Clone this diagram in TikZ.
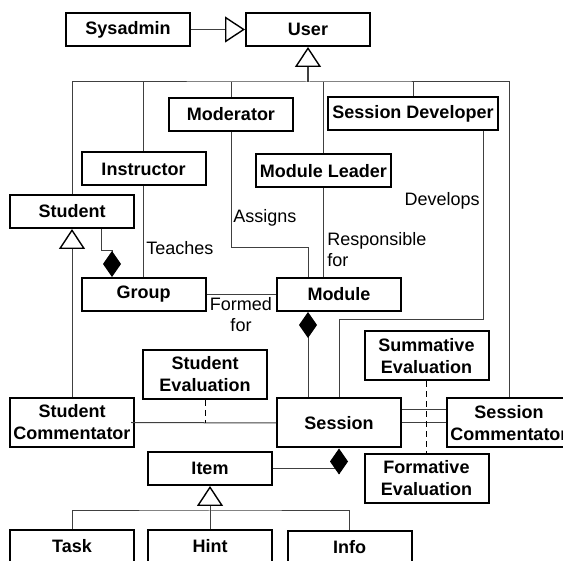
\documentclass[tikz,border=0pt]{standalone}
\usepackage{fontspec}
\setmainfont{Liberation Sans}
\usetikzlibrary{arrows.meta,calc}

\begin{document}
\begin{tikzpicture}[x=0.5pt,y=-0.5pt,
  cls/.style={draw=black, line width=1pt, minimum width=62pt, minimum height=16.5pt,
    inner sep=1pt, align=center, font=\bfseries\fontsize{9}{11}\selectfont},
  twoline/.style={cls, minimum height=24.5pt},
  lbl/.style={inner sep=0pt, align=left, font=\fontsize{9}{10.5}\selectfont},
  assoc/.style={draw=black!75, line width=0.5pt},
  assocdash/.style={assoc, draw=black, dash pattern=on 3pt off 2pt},
  gen/.style={assoc, -{Triangle[open, length=10pt, width=13pt, line width=0.7pt, fill=white, black]}},
  comp/.style={assoc, -{Diamond[length=13pt, width=9pt, black]}}]

\clip (0,0) rectangle (563,561);

\node[cls] (sys) at (128,29.5) {Sysadmin};
\node[cls] (user) at (308,29.5) {User};
\node[cls] (mod) at (231,114.5) {Moderator};
\node[cls, minimum width=85pt] (sdev) at (413,113.5) {Session Developer};
\node[cls] (inst) at (143.5,169) {Instructor};
\node[cls, minimum width=67.5pt] (lead) at (323.5,171) {Module Leader};
\node[cls] (stud) at (72,211.5) {Student};
\node[cls] (group) at (143.5,294.5) {Group};
\node[cls] (module) at (339,294.5) {Module};
\node[twoline] (seval) at (205,374.5) {Student\\Evaluation};
\node[twoline] (summ) at (426.5,356) {Summative\\Evaluation};
\node[twoline] (scom) at (72,422.5) {Student\\Commentator};
\node[twoline] (session) at (339,423) {Session};
\node[twoline] (sescom) at (509,423) {Session\\Commentator};
\node[cls] (item) at (210,468.5) {Item};
\node[twoline] (form) at (426.5,478.5) {Formative\\Evaluation};
\node[cls] (task) at (72,546.5) {Task};
\node[cls] (hint) at (210,546.5) {Hint};
\node[cls] (info) at (349.5,547.5) {Info};

\coordinate (ubar) at (308,82);
\coordinate (ibar) at (210,511);
\coordinate (asg) at (308,248);
\coordinate (dev) at (339,320);

% inheritance
\draw[gen] (sys) -- (user);
\draw[gen, line width=1pt] (ubar) -- (user);
\draw[assoc] (stud.north) |- (ubar) -| (sescom.north);
\foreach \n in {inst,mod,lead,sdev}
  \draw[assoc] (\n.north) -- (\n.north |- ubar);
\draw[gen] (scom) -- (stud);
\draw[gen] (hint) -- (item);
\draw[assoc] (task.north) |- (ibar) -| (info.north);

% associations
\draw[assoc] (inst) -- (group);
\draw[assoc] (group) -- (module);
\draw[assoc] (mod.south) |- (asg) -- (asg |- module.north);
\draw[assoc] (lead.south) -- (lead.south |- module.north);
\draw[assoc] ([xshift=-8pt]sdev.south east) |- (dev) -- (session.north);
\draw[assoc] ([xshift=-2pt]scom.east) -- (session.west);
\draw[assoc] (session) -- (sescom);
\draw[assoc] ([yshift=6.5pt]session.east) -- ([yshift=6.5pt]sescom.west);
\draw[assocdash] (seval.south) -- (seval.south |- session.west);
\draw[assocdash] (summ) -- (form);

% composition
\draw[comp] ([xshift=14.5pt]stud.south) -- ++(0,22) -| ([xshift=-15.75pt]group.north);
\draw[comp] (asg |- session.north) -- (asg |- module.south);
\draw[comp] (item.east) -| (session.south);

% labels
\node[lbl, anchor=west] (teach) at (146,248) {Teaches};
\node[lbl, anchor=west] (assign) at (233,218) {Assigns};
\node[lbl, anchor=north west] (resp) at (327,232) {Responsible\\for};
\node[lbl, anchor=east] (devl) at (480,201) {Develops};
\node[lbl, align=center] (formed) at (241,314.5) {Formed\\for};

\end{tikzpicture}
\end{document}
